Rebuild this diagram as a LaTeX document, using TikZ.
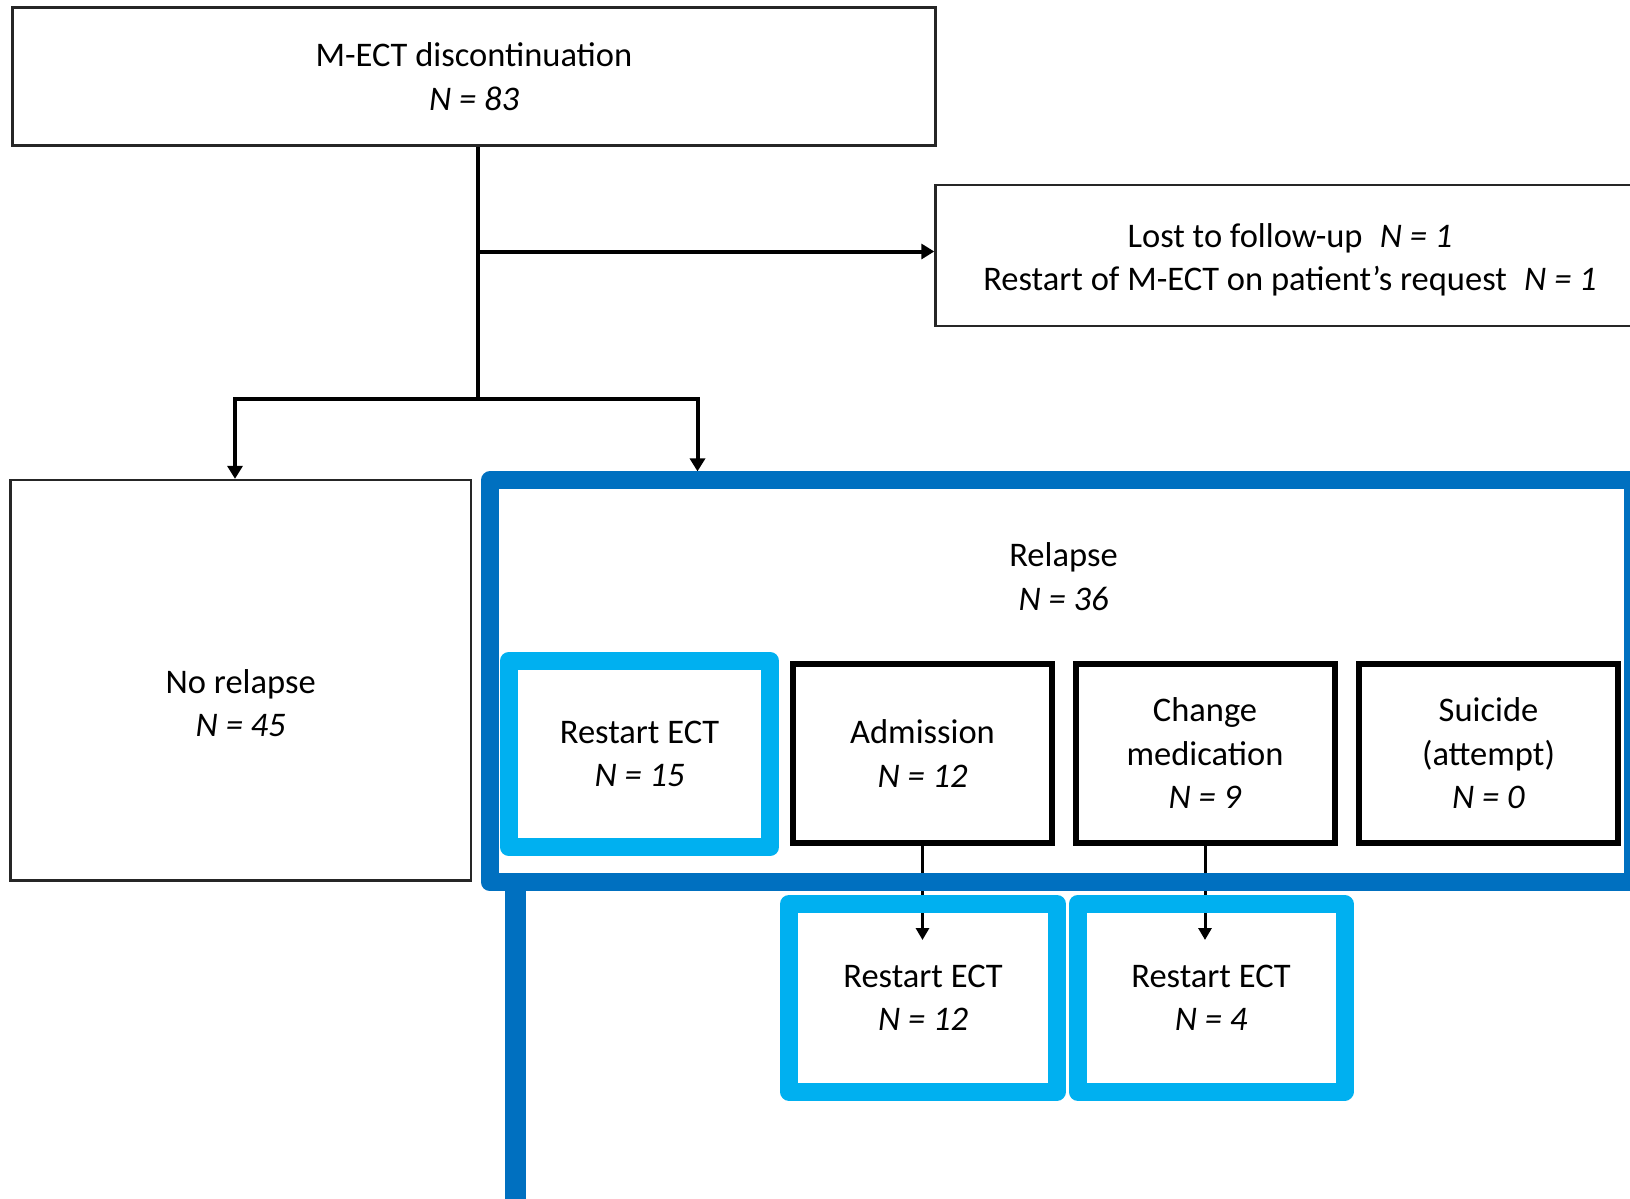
\documentclass[tikz,border=0pt]{standalone}
\usepackage{fontspec}
\setmainfont{Carlito}
\usetikzlibrary{arrows.meta,calc}
\definecolor{frameblue}{HTML}{0070C0}
\definecolor{ectblue}{HTML}{00B0F0}
\pgfdeclarelayer{back}
\pgfsetlayers{back,main}
\begin{document}
\begin{tikzpicture}[x=1pt,y=-1pt,
  txt/.style={font=\fontsize{34.5}{43.5}\selectfont, align=center, inner sep=0pt},
  every node/.style={txt},
  plainbox/.style={draw=black!85, line width=2.4pt},
  blackbox/.style={draw=black, line width=6pt, minimum width=259pt, minimum height=179pt},
  ectbox/.style={draw=ectblue, line width=18pt, line join=round},
  conn/.style={line width=4pt},
  arr/.style={conn, -{Triangle[length=13pt,width=15pt]}},
  arrsmall/.style={line width=3pt, -{Triangle[length=12pt,width=13pt]}}]

\useasboundingbox (0,0) rectangle (1630,1199);
\clip (0,0) rectangle (1630,1199);

% top level
\node[plainbox, minimum width=923pt, minimum height=138pt] (top) at (474,76.4)
  {M-ECT discontinuation\\\textit{N = 83}};
\node[plainbox, minimum width=709pt, minimum height=141pt,
  label={[txt, yshift=-4pt]center:{Lost to follow-up\hspace{0.5em}\textit{N = 1}\\Restart of M-ECT on patient’s request\hspace{0.5em}\textit{N = 1}}}] (lost) at (1290,255.7) {};

% outcome groups
\node[plainbox, minimum width=460.6pt, minimum height=400.5pt,
  label={[txt, yshift=-23pt]center:{No relapse\\\textit{N = 45}}}] (norel) at (240.7,680.3) {};
\node[draw=frameblue, line width=18pt, line join=round,
  minimum width=1143pt, minimum height=402pt,
  label={[txt, xshift=2pt, yshift=105pt]center:{Relapse\\\textit{N = 36}}}] (frame) at (1061.5,681.4) {};
\coordinate (tail) at (515.5,1215);
\draw[frameblue, line width=21pt] ([yshift=9pt]tail |- frame.south) -- (tail);

% relapse management
\node[ectbox, minimum width=261pt, minimum height=186.5pt] (r15) at (639.5,754) {Restart ECT\\\textit{N = 15}};
\node[blackbox] (adm) at (922.5,753.5) {Admission\\\textit{N = 12}};
\node[blackbox] (chg) at (1205,753.5) {Change\\medication\\\textit{N = 9}};
\node[blackbox] (sui) at (1488.5,753.5) {Suicide\\(attempt)\\\textit{N = 0}};

\node[ectbox, minimum width=268pt, minimum height=187.5pt] (low12) at (923,997.8) {Restart ECT\\\textit{N = 12}};
\node[ectbox, minimum width=267pt, minimum height=187.5pt] (low4) at (1211,997.8) {Restart ECT\\\textit{N = 4}};

% connectors, kept beneath the box outlines
\begin{pgfonlayer}{back}
  \fill[white] (0,0) rectangle (1630,1199);
  \coordinate (j1) at (478,251.5);
  \coordinate (j2) at (478,398.5);
  \coordinate (jl) at (235,398.5);
  \coordinate (jr) at (697.5,398.5);
  \coordinate (tipA) at (0,940);
  \draw[conn] (top.south -| j1) -- (j2);
  \draw[arr] (j1) -- (j1 -| lost.west);
  \draw[arr] (j2) -| (jl |- norel.north);
  \draw[arr] (j2) -| (jr |- frame.north);
  \draw[arrsmall] (adm.south) -- (adm.south |- tipA);
  \draw[arrsmall] (chg.south) -- (chg.south |- tipA);
\end{pgfonlayer}
\end{tikzpicture}
\end{document}
